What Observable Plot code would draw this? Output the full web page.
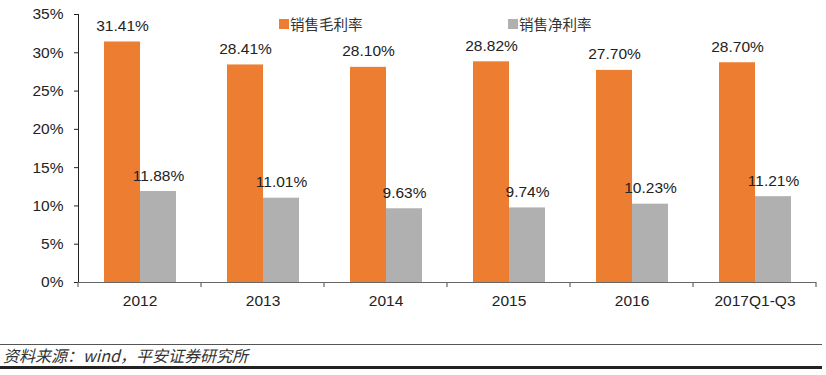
<!DOCTYPE html>
<html>
<head>
<meta charset="utf-8">
<script src="https://cdn.jsdelivr.net/npm/d3@7"></script>
<script src="https://cdn.jsdelivr.net/npm/@observablehq/plot@0.6"></script>
<style>
  body { margin: 0; background: #fff; }
  #wrap { position: relative; width: 826px; height: 375px; font-family: "Liberation Sans", Arial, sans-serif; color: #222; }
  #chart { position: absolute; left: 0; top: 0; }
  .legend { position: absolute; top: 13px; font-size: 14.5px; color: #333; display: flex; align-items: center; font-family: "Noto Sans CJK SC", sans-serif; }
  .legend .sw { width: 10px; height: 10px; margin-right: 1px; }
  #thin { position: absolute; left: 0; width: 822px; top: 343.5px; height: 0; border-top: 1px solid #555; }
  #thick { position: absolute; left: 0; width: 822px; top: 366px; height: 2.5px; background: #222; }
  #src { position: absolute; left: 3px; top: 345px; font-size: 16px; font-style: italic; color: #333; line-height: 20px; font-family: "Noto Sans CJK SC", "Liberation Sans", sans-serif; }
</style>
</head>
<body>
<div id="wrap">
  <div id="chart"></div>
  <div class="legend" id="lg1" style="left:279px"></div>
  <div class="legend" id="lg2" style="left:508px"></div>
  <div id="thin"></div>
  <div id="src"></div>
  <div id="thick"></div>
</div>
<script>
const categories = ["2012", "2013", "2014", "2015", "2016", "2017Q1-Q3"];
const seriesNames = ["销售毛利率", "销售净利率"];
const grossMargin = [31.41, 28.41, 28.10, 28.82, 27.70, 28.70];
const netMargin = [11.88, 11.01, 9.63, 9.74, 10.23, 11.21];
const yTicks = [0, 5, 10, 15, 20, 25, 30, 35];
const colors = ["#ED7D31", "#B0B0B0"];
const sourceText = "资料来源：wind，平安证券研究所";

const data = [];
categories.forEach((c, i) => {
  data.push({cat: c, series: seriesNames[0], value: grossMargin[i]});
  data.push({cat: c, series: seriesNames[1], value: netMargin[i]});
});

const chart = Plot.plot({
  width: 826,
  height: 322,
  marginLeft: 77,
  marginRight: 10,
  marginTop: 14,
  marginBottom: 40,
  style: {fontFamily: "'Liberation Sans', Arial, sans-serif", fontSize: "15.5px", color: "#222", background: "transparent"},
  fx: {domain: categories, padding: 0, label: null, axis: "bottom", tickSize: 0, tickPadding: 12},
  x: {domain: seriesNames, paddingInner: 0, paddingOuter: 0.68, axis: null},
  y: {domain: [0, 35], ticks: yTicks, tickFormat: d => d + "%", tickSize: 4, tickPadding: 11, label: null, line: true},
  color: {domain: seriesNames, range: colors},
  marks: [
    Plot.barY(data, {fx: "cat", x: "series", y: "value", fill: "series"}),
    Plot.text(data, {fx: "cat", x: "series", y: "value", text: d => d.value.toFixed(2) + "%", dy: -16, fontSize: 15.5, fill: "#222"}),
    Plot.ruleY([0], {stroke: "#666", strokeWidth: 1.2})
  ]
});
document.getElementById("chart").appendChild(chart);

// boundary tick marks on the category axis, placed with the fx scale
const fx = chart.scale("fx");
const yS = chart.scale("y");
const y0 = yS.apply(0);
const svg = d3.select(chart);
const bounds = categories.map(c => fx.apply(c)).concat([fx.apply(categories[categories.length - 1]) + fx.bandwidth]);
svg.append("g").selectAll("line").data(bounds).join("line")
  .attr("x1", d => d).attr("x2", d => d)
  .attr("y1", y0).attr("y2", y0 + 5)
  .attr("stroke", "#666").attr("stroke-width", 1.2);
svg.selectAll("g[aria-label='y-axis'] path, g[aria-label='y-axis'] line").attr("stroke", "#666");

// legend
[["lg1", 0], ["lg2", 1]].forEach(([id, i]) => {
  const el = document.getElementById(id);
  const sw = document.createElement("span");
  sw.className = "sw"; sw.style.background = colors[i];
  const t = document.createElement("span");
  t.textContent = seriesNames[i];
  el.appendChild(sw); el.appendChild(t);
});
document.getElementById("src").textContent = sourceText;
</script>
</body>
</html>
